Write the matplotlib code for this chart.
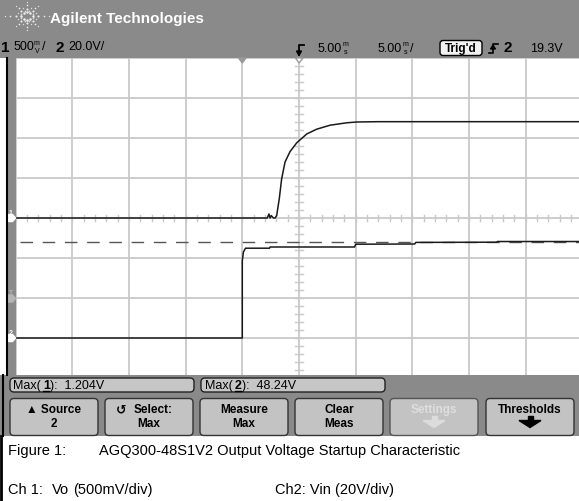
import numpy as np
import matplotlib
matplotlib.use("Agg")
import matplotlib.pyplot as plt
from matplotlib.patches import Rectangle, FancyBboxPatch, Polygon
from matplotlib import font_manager

# ---------------- data ----------------
# Channel 1: Vo (V) vs time (ms, relative to trigger)
t1_ms = [-20, 2.2, 2.35, 2.45, 2.55, 2.75, 2.9, 3.03, 3.26, 3.47, 3.77, 4.21, 4.80,
         5.68, 6.56, 7.74, 9.21, 10.09, 12.0, 20.0, 30.0]
v1_V = [0.0, 0.0, 0.05, 0.0, 0.03, 0.0, 0.0, 0.03, 0.24, 0.49, 0.70, 0.83, 0.94,
        1.05, 1.11, 1.16, 1.19, 1.20, 1.204, 1.204, 1.204]
# Channel 2: Vin (V) vs time (ms)
t2_ms = [-20, 0.0, 0.0, 0.1, 0.28, 2.4, 2.45, 9.9, 10.0, 15.2, 15.3, 22.4, 22.5, 30.0]
v2_V = [0.0, 0.0, 38.6, 43.0, 44.9, 44.9, 45.5, 45.5, 46.9, 47.0, 47.8, 47.9, 48.24, 48.24]

ch1_scale = 0.5     # V/div
ch2_scale = 20.0    # V/div
time_scale = 5.0    # ms/div
delay_ms = 5.0
trig_level = 19.3
max1 = 1.204
max2 = 48.24

caption1 = ("Figure 1:", "AGQ300-48S1V2 Output Voltage Startup Characteristic")
caption2 = ("Ch 1:", "Vo", "(500mV/div)", "Ch2: Vin (20V/div)")
buttons = [("▲ Source", "2"), ("Select:", "Max"), ("Measure", "Max"),
           ("Clear", "Meas"), ("Settings", ""), ("Thresholds", "")]

# ---------------- fonts ----------------
avail = {f.name for f in font_manager.fontManager.ttflist}
UI = "Liberation Sans" if "Liberation Sans" in avail else "DejaVu Sans"
CAP = "Liberation Sans Narrow" if "Liberation Sans Narrow" in avail else UI
plt.rcParams["font.family"] = [UI, "DejaVu Sans"]

W, H = 579, 502
fig = plt.figure(figsize=(W / 100, H / 100), dpi=100)
fig.patch.set_facecolor("white")

# ---------------- scope graticule axes ----------------
gx0, gx1 = 15.5, 582.5
gy0, gy1 = 59.0, 379.0
ax = fig.add_axes([gx0 / W, (H - gy1) / H, (gx1 - gx0) / W, (gy1 - gy0) / H], zorder=1)
tmin = delay_ms - 5 * time_scale
tmax = delay_ms + 5 * time_scale
ax.set_xlim(tmin, tmax)
ax.set_ylim(-4 * ch1_scale, 4 * ch1_scale)
ax.set_facecolor("white")
for s in ax.spines.values():
    s.set_visible(False)
ax.set_xticks(np.arange(tmin, tmax + 0.1, time_scale))
ax.set_yticks(np.arange(-4 * ch1_scale, 4 * ch1_scale + 0.01, ch1_scale))
ax.grid(True, color="#c9c9c9", lw=1.3)
ax.tick_params(length=0, labelbottom=False, labelleft=False)
# centre axis minor ticks
for tt in np.arange(tmin, tmax + 0.01, time_scale / 5):
    ax.plot([tt, tt], [-0.04, 0.04], color="#c9c9c9", lw=1.0, zorder=1)
for vv in np.arange(-2, 2.001, ch1_scale / 5):
    ax.plot([delay_ms - 0.35, delay_ms + 0.35], [vv, vv], color="#c9c9c9", lw=1.0, zorder=1)

ax.plot(t1_ms, v1_V, color="#1a1a1a", lw=1.1, zorder=3)

ax2 = ax.twinx()
ax2.set_ylim(-1 * ch2_scale, 7 * ch2_scale)
ax2.axis("off")
ax2.plot(t2_ms, v2_V, color="#1a1a1a", lw=1.1, zorder=3)
ax2.axhline(max2, xmin=0.008, color="#555555", lw=1.0, dashes=(9, 7), zorder=2)

# ---------------- foreground decorations ----------------
fg = fig.add_axes([0, 0, 1, 1], zorder=5)
fg.set_xlim(0, W)
fg.set_ylim(H, 0)
fg.axis("off")
fg.patch.set_alpha(0)

GRAY = "#8a8a8a"
fg.add_patch(Rectangle((0, 0), W, 58.5, color=GRAY, lw=0))
fg.add_patch(Rectangle((0, 58.5), 6, 318, color="white", lw=0))
fg.add_patch(Rectangle((7, 58.5), 8.5, 318, color=GRAY, lw=0))
fg.plot([6.5, 6.5], [58.5, 376], color="black", lw=1.5)
fg.add_patch(Rectangle((0, 376), W, 61, color=GRAY, lw=0))
fg.plot([3, 3], [376, 437], color="black", lw=1.5)
fg.add_patch(Rectangle((0, 437), W, 65, color="white", lw=0))
fg.plot([1, 1], [437, 502], color="black", lw=2)

# logo starburst (sparse dots)
cx, cy = 27, 17
for ang in np.arange(0, 360, 45):
    a = np.deg2rad(ang)
    sx = 1.4 if ang % 180 == 0 else 1.0
    for r, s in [(4, 1.8), (8, 1.5), (12, 1.2), (15.5, 0.9)]:
        fg.plot(cx + sx * r * np.cos(a), cy + 0.9 * r * np.sin(a), "o",
                ms=s, color="white", mec="none", alpha=0.85)
for ang in np.arange(22.5, 360, 45):
    a = np.deg2rad(ang)
    for r, s in [(6, 1.2), (10, 1.0)]:
        fg.plot(cx + r * np.cos(a), cy + 0.9 * r * np.sin(a), "o",
                ms=s, color="white", mec="none", alpha=0.7)
fg.text(50, 19, "Agilent Technologies", color="white", fontsize=11,
        fontweight="bold", va="center", ha="left")

# header line 2
def stacked(x, y, top, bot, size=5.0):
    fg.text(x, y - 3.6, top, fontsize=size, ha="left", va="center", color="black")
    fg.text(x + 0.5, y + 3.6, bot, fontsize=size, ha="left", va="center", color="black")

hy = 47.5
fg.text(0.5, hy, "1", fontsize=11, fontweight="bold", va="center", color="black")
fg.text(14, hy, "500", fontsize=9, va="center", color="black")
stacked(34, hy, "m", "V")
fg.text(41.5, hy, "/", fontsize=9, va="center", color="black")
fg.text(55, hy, "2", fontsize=11, fontweight="bold", va="center", color="black")
fg.text(68, hy, "20.0V/", fontsize=9, va="center", color="black")

# delay icon
fg.plot([299, 299, 304], [56, 46, 46], color="black", lw=1.3)
fg.add_patch(Polygon([[296.5, 52], [301.5, 52], [299, 56.5]], closed=True, color="black"))
fg.text(318, hy + 1, "5.00", fontsize=9, va="center", color="black")
stacked(343, hy + 1, "m", "s")
fg.text(378, hy + 1, "5.00", fontsize=9, va="center", color="black")
stacked(403, hy + 1, "m", "s")
fg.text(410.5, hy + 1, "/", fontsize=9, va="center", color="black")
fg.add_patch(FancyBboxPatch((440, 41.5), 42, 15, boxstyle="round,pad=0,rounding_size=3",
                            fc="#f2f2f2", ec="black", lw=1.0))
fg.text(461, 49, "Trig'd", fontsize=8.5, fontweight="bold", ha="center", va="center", color="black")
# trigger slope icon
fg.plot([489, 493, 493, 498], [54, 54, 45, 45], color="black", lw=1.2)
fg.add_patch(Polygon([[490.5, 50], [495.5, 50], [493, 46]], closed=True, color="black"))
fg.text(504, hy + 1, "2", fontsize=11, fontweight="bold", va="center", color="black")
fg.text(530, hy + 1, "19.3V", fontsize=9, va="center", color="black")

# markers at top of graticule
fg.add_patch(Polygon([[238.5, 59], [246, 59], [242.3, 64]], closed=True, color="#9a9a9a"))
fg.add_patch(Polygon([[295.5, 59], [303, 59], [299, 64]], closed=True, fc="white", ec="#9a9a9a", lw=1))

# ground / trigger markers on left bar
def ground_marker(y, label, col):
    fg.add_patch(Polygon([[8, y - 3.5], [12.5, y - 3.5], [15.5, y], [12.5, y + 3.5], [8, y + 3.5]],
                         closed=True, color=col))
    fg.text(8.5, y - 5.5, label, fontsize=5, color=col, fontweight="bold", va="center")

ground_marker(219, "1", "white")
ground_marker(339, "2", "white")
ground_marker(299.5, "T", "#b5b5b5")

# measurement result bars
def pill(x, y, w, h, fc="#c6c6c6", ec="#222222"):
    fg.add_patch(FancyBboxPatch((x, y), w, h, boxstyle="round,pad=0,rounding_size=4",
                                fc=fc, ec=ec, lw=1.0))

pill(10, 379, 184, 14)
pill(201, 379, 184, 14)
fg.text(13, 386.5, "Max(", fontsize=9, va="center", color="black")
fg.text(43, 386.5, "1", fontsize=9, fontweight="bold", va="center", color="black")
fg.plot([42.5, 49], [392, 392], color="black", lw=1)
fg.text(50, 386.5, "):  1.204V", fontsize=9, va="center", color="black")
fg.text(205, 386.5, "Max(", fontsize=9, va="center", color="black")
fg.text(235, 386.5, "2", fontsize=9, fontweight="bold", va="center", color="black")
fg.plot([234.5, 241], [392, 392], color="black", lw=1)
fg.text(242, 386.5, "):  48.24V", fontsize=9, va="center", color="black")

# soft keys
bx = [10, 105, 200, 295, 390, 486]
for i, (x0, (l1, l2)) in enumerate(zip(bx, buttons)):
    disabled = (i == 4)
    pill(x0, 399.5, 88, 37, fc="#c3c3c3", ec="#333333" if not disabled else "#555555")
    col = "#dedede" if disabled else "black"
    xc = x0 + 44
    if i == 1:
        fg.text(xc + 4, 410, l1, fontsize=8.5, fontweight="bold", ha="center", va="center", color=col)
        fg.text(xc - 28, 410, "\u21ba", fontsize=9, fontweight="bold", ha="center", va="center", color=col,
                family=["DejaVu Sans"])
    else:
        fg.text(xc, 410, l1, fontsize=8.5, fontweight="bold", ha="center", va="center", color=col)
    if l2:
        fg.text(xc, 424, l2, fontsize=8.5, fontweight="bold", ha="center", va="center", color=col)
    if i in (4, 5):
        acol = "#dcdcdc" if disabled else "black"
        fg.add_patch(Rectangle((xc - 2.5, 417), 5, 5, color=acol))
        fg.add_patch(Polygon([[xc - 11, 421.5], [xc + 11, 421.5], [xc, 428.5]], closed=True, color=acol))

# captions
fg.text(8, 451, caption1[0], fontsize=10.5, family=[CAP, UI], va="center", color="black")
fg.text(99, 451, caption1[1], fontsize=10.5, family=[CAP, UI], va="center", color="black")
fg.text(8, 490, caption2[0], fontsize=10.5, family=[CAP, UI], va="center", color="black")
fg.text(52, 490, caption2[1], fontsize=10.5, family=[CAP, UI], va="center", color="black")
fg.text(73, 490, caption2[2], fontsize=10.5, family=[CAP, UI], va="center", color="black")
fg.text(275, 490, caption2[3], fontsize=10.5, family=[CAP, UI], va="center", color="black")

fig.savefig("out.png", dpi=100)
